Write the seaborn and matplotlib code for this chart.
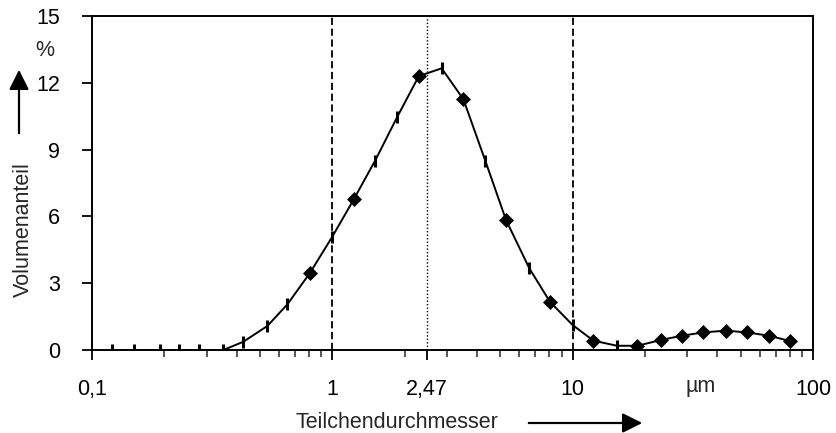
import matplotlib
matplotlib.use("Agg")
import matplotlib.pyplot as plt
import matplotlib.ticker as mticker
import seaborn as sns
import pandas as pd

# particle size distribution
diameter = [0.121, 0.149, 0.191, 0.231, 0.280, 0.352, 0.426, 0.537, 0.650, 0.808,
            1.0, 1.23, 1.506, 1.865, 2.29, 2.85, 3.51, 4.33, 5.28, 6.60,
            8.05, 10.0, 12.2, 15.3, 18.6, 23.3, 28.4, 35.0, 43.4, 53.0,
            65.7, 80.3]
volume = [0, 0, 0, 0, 0, 0, 0.37, 1.08, 2.05, 3.47,
          5.09, 6.78, 8.5, 10.48, 12.3, 12.65, 11.26, 8.5, 5.84, 3.67,
          2.16, 1.12, 0.42, 0.19, 0.19, 0.45, 0.64, 0.79, 0.87, 0.79,
          0.64, 0.40]
kind = ["bar"] * 9 + ["dia", "bar", "dia", "bar", "bar", "dia", "bar", "dia",
                      "bar", "dia", "bar", "dia", "bar", "dia", "bar", "dia"] + ["dia"] * 7

x_ticks = [0.1, 1, 2.47, 10, 100]
x_labels = ["0,1", "1", "2,47", "10", "100"]
y_ticks = [0, 3, 6, 9, 12, 15]
dashed_at = [1, 10]
median = 2.47

df = pd.DataFrame({"d": diameter, "v": volume, "kind": kind})

sns.set_style("ticks")
plt.rcParams["font.family"] = ["Liberation Sans", "DejaVu Sans"]
fs = 15.5

fig = plt.figure(figsize=(8.36, 4.33), dpi=100)
ax = fig.add_axes([92 / 836, 83 / 433, 721 / 836, 334 / 433])

# reference lines
for xv in dashed_at:
    ax.axvline(xv, color="black", lw=1.3, ls=(0, (4, 2)), zorder=1)
ax.axvline(median, color="black", lw=1.0, ls=(0, (1, 1.5)), zorder=1)

sns.lineplot(data=df, x="d", y="v", color="black", lw=1.4, sort=False, ax=ax, zorder=3)
bars = df[df["kind"] == "bar"]
dias = df[df["kind"] == "dia"]
sns.lineplot(data=bars, x="d", y="v", color="black", marker="|", markersize=9,
             markeredgewidth=2.2, markeredgecolor="black", linestyle="", sort=False,
             ax=ax, zorder=4)
sns.lineplot(data=dias, x="d", y="v", color="black", marker="D", markersize=7.5,
             markeredgewidth=0.5, markeredgecolor="black", markerfacecolor="black",
             linestyle="", sort=False, ax=ax, zorder=4)

ax.set_xscale("log")
ax.set_xlim(0.1, 100)
ax.set_ylim(0, 15)
ax.set_xticks(x_ticks)
ax.set_xticklabels(x_labels)
ax.xaxis.set_minor_locator(mticker.LogLocator(base=10, subs=range(2, 10)))
ax.xaxis.set_minor_formatter(mticker.NullFormatter())
ax.set_yticks(y_ticks)
ax.set_xlabel("")
ax.set_ylabel("")

for s in ax.spines.values():
    s.set_visible(True)
    s.set_linewidth(1.4)
    s.set_color("black")

ax.tick_params(axis="x", which="major", direction="out", length=7, width=1.3,
               pad=14, labelsize=fs, colors="black")
ax.tick_params(axis="x", which="minor", direction="out", length=5, width=1.1)
ax.tick_params(axis="y", direction="out", length=7, width=1.3, pad=16,
               labelsize=fs, colors="black")

# unit on x axis
ax.text(34, -0.11, "µm", transform=ax.get_xaxis_transform(), ha="center",
        va="center", fontsize=fs)

# axis titles with arrows
fig.text(295 / 836, 1 - 422 / 433, "Teilchendurchmesser", ha="left", va="center", fontsize=fs)
fig.add_artist(matplotlib.patches.FancyArrowPatch(
    (526 / 836, 1 - 423 / 433), (645 / 836, 1 - 423 / 433), transform=fig.transFigure,
    arrowstyle="-|>,head_length=8,head_width=4", mutation_scale=1.5, color="black", lw=1.6))

fig.text(23 / 836, 1 - 230 / 433, "Volumenanteil", rotation=90, ha="center", va="center",
         fontsize=fs)
fig.add_artist(matplotlib.patches.FancyArrowPatch(
    (19 / 836, 1 - 136 / 433), (19 / 836, 1 - 67 / 433), transform=fig.transFigure,
    arrowstyle="-|>,head_length=8,head_width=4", mutation_scale=1.5, color="black", lw=1.6))
fig.text(45 / 836, 1 - 50 / 433, "%", ha="center", va="center", fontsize=fs)

fig.savefig("out.png", dpi=100)
